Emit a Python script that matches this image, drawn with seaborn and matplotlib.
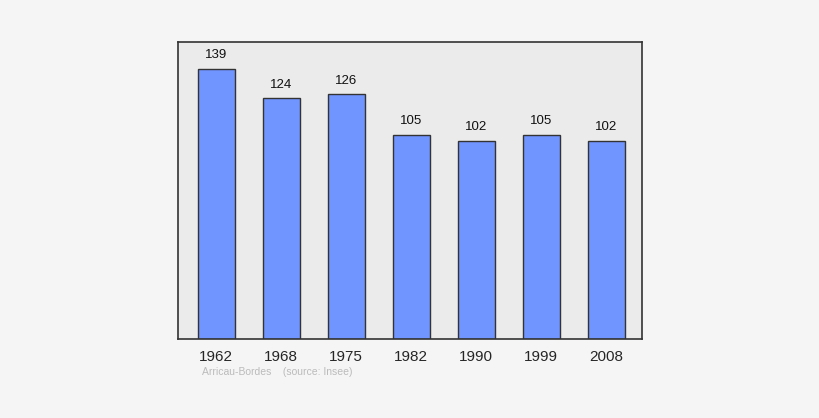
import matplotlib
matplotlib.use("Agg")
import matplotlib.pyplot as plt
import seaborn as sns

# Population data
years = ["1962", "1968", "1975", "1982", "1990", "1999", "2008"]
population = [139, 124, 126, 105, 102, 105, 102]

sns.set_style("white")
plt.rcParams['font.family'] = ['Liberation Sans', 'DejaVu Sans']

fig = plt.figure(figsize=(8.2, 4.18), dpi=100, facecolor="#f5f5f5")
ax = fig.add_axes([178 / 820, 1 - 339 / 418, (642 - 178) / 820, (339 - 42) / 418])
ax.set_facecolor("#ebebeb")

sns.barplot(x=years, y=population, color="#7095ff", saturation=1, width=0.57,
            edgecolor="#333333", linewidth=1, ax=ax)

for i, v in enumerate(population):
    ax.text(i, v + 4, str(v), ha="center", va="bottom", fontsize=9.5, color="#111111")

ax.set_xlim(-0.585, 6.55)
ax.set_ylim(0, 153)
ax.set_yticks([])
ax.tick_params(axis="x", length=0, labelsize=11, pad=8)
for s in ax.spines.values():
    s.set_color("#333333")
    s.set_linewidth(1.2)

fig.text(202 / 820, 1 - 372 / 418, "Arricau-Bordes    (source: Insee)", fontsize=7.5,
         color="#bbbbbb", va="center", ha="left")

fig.savefig("out.png", dpi=100, facecolor=fig.get_facecolor())
